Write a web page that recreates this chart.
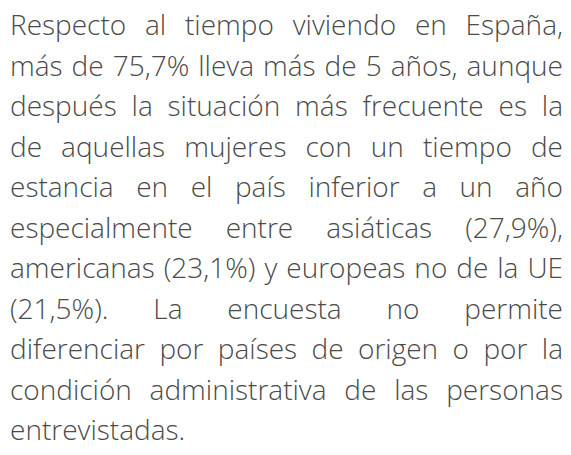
<!DOCTYPE html>
<html>
<head>
<meta charset="utf-8">
<script src="https://cdn.jsdelivr.net/npm/chart.js@4/dist/chart.umd.min.js"></script>
<style>
  html, body { margin: 0; padding: 0; background: #ffffff; }
  #text {
    position: absolute;
    left: 10px;
    top: 4px;
    width: 553px;
    font-family: "Open Sans", sans-serif;
    font-weight: 300;
    font-size: 28px;
    line-height: 40.5px;
    color: #4a4a4a;
  }
  .line { text-align: justify; text-align-last: justify; white-space: nowrap; }
  .line.last { text-align-last: left; }
</style>
</head>
<body>
<div id="text"></div>
<script>
// Lines of the paragraph, as broken in the reference
const lines = [
  'Respecto al tiempo viviendo en España,',
  'más de 75,7% lleva más de 5 años, aunque',
  'después la situación más frecuente es la',
  'de aquellas mujeres con un tiempo de',
  'estancia en el país inferior a un año',
  'especialmente entre asiáticas (27,9%),',
  'americanas (23,1%) y europeas no de la UE',
  '(21,5%). La encuesta no permite',
  'diferenciar por países de origen o por la',
  'condición administrativa de las personas',
  'entrevistadas.'
];

const box = document.getElementById('text');
lines.forEach((t, i) => {
  const div = document.createElement('div');
  div.className = 'line' + (i === lines.length - 1 ? ' last' : '');
  div.textContent = t;
  box.appendChild(div);
});
</script>
</body>
</html>
